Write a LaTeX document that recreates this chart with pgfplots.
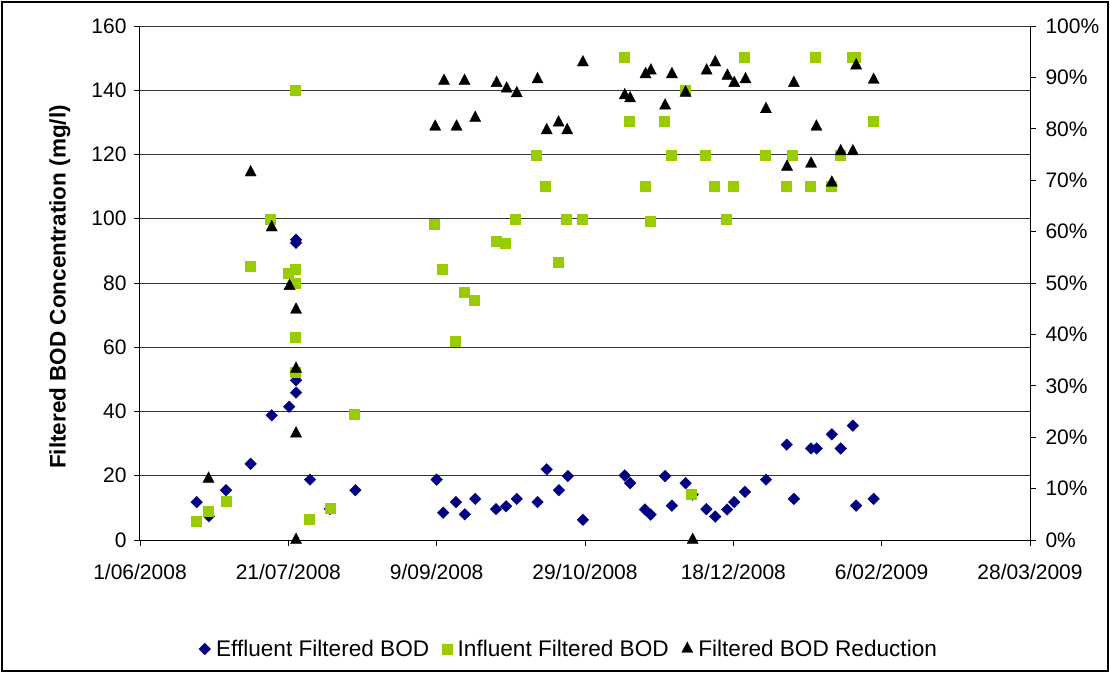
\documentclass[border=0pt]{standalone}
\usepackage{pgfplots}
\usepackage{pgfplotstable}
\pgfplotsset{compat=1.18}
\usepackage{fontspec}
\setmainfont{Liberation Sans}

\definecolor{effl}{RGB}{0,0,128}
\definecolor{infl}{RGB}{153,204,0}

% x = days after 1/06/2008
\pgfplotstableread{
day  bod
19.1 11.8
23.2 7.4
29.0 15.5
37.3 23.7
44.4 38.8
50.3 41.5
52.6 45.9
52.6 49.7
52.6 93.5
52.6 92.5
57.3 18.8
64.0 9.7
72.6 15.5
100.0 18.8
102.2 8.5
106.5 11.8
109.5 8.0
113.0 12.8
120.0 9.6
123.4 10.5
127.0 12.8
134.0 11.8
137.1 22.0
141.2 15.5
144.2 19.9
149.3 6.3
163.4 20.1
165.2 17.7
170.2 9.5
172.1 7.9
177.0 19.9
179.3 10.7
183.9 17.7
186.3 14.1
190.9 9.6
193.9 7.3
197.9 9.5
200.3 11.8
203.9 15.0
211.0 18.8
218.0 29.7
220.4 12.8
226.2 28.5
228.1 28.5
233.2 32.9
236.2 28.5
240.3 35.6
241.4 10.7
247.3 12.8
}\effluent

\pgfplotstableread{
day  bod
18.9 5.8
22.9 8.9
28.9 12.1
37.1 85.3
44.0 99.8
49.9 83.1
52.4 84.2
52.4 79.8
52.4 63.0
52.4 52.3
52.4 140.0
57.0 6.6
64.0 9.9
72.1 39.1
99.2 98.3
102.0 84.2
106.2 61.9
109.2 77.2
112.6 74.8
119.9 92.9
123.2 92.3
126.6 99.8
133.7 119.9
136.7 110.2
140.8 86.4
143.8 99.8
149.0 99.8
163.1 150.2
164.8 130.3
170.2 110.2
171.9 99.3
176.6 130.3
179.0 119.9
183.7 140.0
185.9 14.4
190.6 119.9
193.6 110.2
197.7 99.8
200.0 110.2
203.7 150.2
210.6 119.9
217.7 110.2
220.0 119.9
225.8 110.2
227.6 150.2
232.9 110.2
236.0 119.9
239.9 150.2
241.2 150.2
247.0 130.3
}\influent

\pgfplotstableread{
day  red
23.1 11.9
37.3 71.5
44.4 60.8
50.4 49.4
52.6 44.8
52.6 33.3
52.6 20.7
52.6 0
99.5 80.4
102.5 89.3
106.7 80.4
109.4 89.3
113.0 82.1
120.2 88.9
123.6 87.8
127.0 86.9
134.0 89.6
137.1 79.7
141.1 81.2
144.0 79.7
149.3 92.9
163.4 86.5
165.2 85.9
170.4 90.6
172.2 91.3
177.0 84.5
179.3 90.6
183.9 87.0
186.3 0
191.0 91.3
193.9 92.9
198.0 90.3
200.3 88.9
204.1 89.6
211.0 83.8
218.1 72.6
220.4 88.9
226.2 73.2
228.0 80.4
233.2 69.5
236.2 75.6
240.3 75.6
241.4 92.3
247.3 89.5
}\reduction

\pgfplotsset{
  bodbase/.style={
    scale only axis, width=890pt, height=514pt,
    xmin=0, xmax=300,
    tick align=outside, major tick length=6pt,
    tick style={black, line width=0.8pt},
    axis line style={black, line width=1pt},
    /pgf/number format/assume math mode=true,
    ticklabel style={font=\fontsize{21}{25}\selectfont},
    clip=false,
  },
  efflmark/.style={only marks, mark=square*, mark size=4.1pt,
    mark options={rotate=45, fill=effl, draw=effl}},
  inflmark/.style={only marks, mark=square*, mark size=5pt,
    mark options={fill=infl, draw=infl}},
  redmark/.style={only marks, mark=triangle*, mark size=6.4pt,
    mark options={fill=black, draw=black, yscale=1.1}},
}

\begin{document}
\begin{tikzpicture}
\useasboundingbox (-140pt,-133pt) rectangle (970pt,540pt);
\begin{axis}[bodbase,
  axis x line*=bottom, axis y line*=left,
  ymin=0, ymax=160, ytick={0,20,...,160},
  xtick={0,50,...,300},
  xticklabels={1/06/2008,21/07/2008,9/09/2008,29/10/2008,18/12/2008,6/02/2009,28/03/2009},
  xticklabel style={yshift=-15pt},
  yticklabel style={xshift=-4pt},
  ymajorgrids, major grid style={black!80, line width=0.8pt},
  ylabel={Filtered BOD Concentration (mg/l)},
  ylabel style={font=\fontsize{22.5}{27}\selectfont\bfseries,
    at={(axis description cs:-0.09,0.492)}, anchor=center},
]
\addplot[efflmark] table[x=day, y=bod] {\effluent};
\addplot[inflmark] table[x=day, y=bod] {\influent};
\end{axis}

\begin{axis}[bodbase,
  axis y line*=right, axis x line=none,
  ymin=0, ymax=100, ytick={0,10,...,100},
  yticklabel={\pgfmathprintnumber{\tick}\%},
  yticklabel style={xshift=6pt},
  legend columns=3,
  legend image code/.code={\draw[#1] plot coordinates {(0pt,0pt)};},
  legend style={draw=none, fill=none,
    at={(axis description cs:0.482,-0.212)}, anchor=center,
    font=\fontsize{22.6}{27}\selectfont,
    nodes={inner sep=2pt},
    /tikz/every odd column/.append style={column sep=3.5pt},
    /tikz/every even column/.append style={column sep=11pt}},
]
\addlegendimage{efflmark}
\addlegendentry{Effluent Filtered BOD}
\addlegendimage{inflmark}
\addlegendentry{Influent Filtered BOD}
\addplot[redmark] table[x=day, y=red] {\reduction};
\addlegendentry{Filtered BOD Reduction}
\end{axis}

\draw[line width=2pt] (-138pt,-131pt) rectangle (968pt,538pt);
\end{tikzpicture}
\end{document}
